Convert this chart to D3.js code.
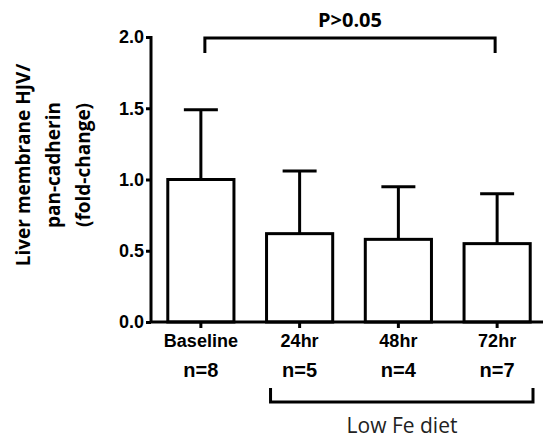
<!DOCTYPE html>
<html>
<head>
<meta charset="utf-8">
<script src="https://cdn.jsdelivr.net/npm/d3@7"></script>
<style>
  body { margin: 0; background: #fff; }
  svg { display: block; }
</style>
</head>
<body>
<div id="chart"></div>
<script>
const groups = ["Baseline", "24hr", "48hr", "72hr"];
const means = [1.0, 0.62, 0.58, 0.55];
const errTops = [1.49, 1.06, 0.95, 0.90];
const nLabels = ["n=8", "n=5", "n=4", "n=7"];
const yTicks = [0.0, 0.5, 1.0, 1.5, 2.0];

const width = 543, height = 442;

const svg = d3.select("#chart").append("svg")
    .attr("width", width)
    .attr("height", height);

const x = d3.scaleBand()
    .domain(groups)
    .range([151, 547])
    .paddingInner(0.33)
    .paddingOuter(0.17);

const y = d3.scaleLinear()
    .domain([0, 2])
    .range([322, 37]);

const lw = 3;
const arial = "Liberation Sans, Arial, sans-serif";

// bars
svg.append("g")
    .selectAll("rect")
    .data(groups)
    .join("rect")
    .attr("x", d => x(d))
    .attr("y", (d, i) => y(means[i]))
    .attr("width", x.bandwidth())
    .attr("height", (d, i) => y(0) - y(means[i]))
    .attr("fill", "#fff")
    .attr("stroke", "#000")
    .attr("stroke-width", lw);

// error bars (upper only)
const eb = svg.append("g").attr("stroke", "#000").attr("stroke-width", lw);
groups.forEach((g, i) => {
    const cx = x(g) + x.bandwidth() / 2;
    eb.append("line")
        .attr("x1", cx).attr("x2", cx)
        .attr("y1", y(means[i])).attr("y2", y(errTops[i]));
    eb.append("line")
        .attr("x1", cx - 17).attr("x2", cx + 17)
        .attr("y1", y(errTops[i])).attr("y2", y(errTops[i]));
});

// y axis
const yAxis = svg.append("g")
    .attr("transform", "translate(151,0)")
    .call(d3.axisLeft(y).tickValues(yTicks).tickFormat(d3.format(".1f")).tickSize(5).tickPadding(2));
yAxis.select(".domain").attr("stroke-width", lw).attr("d", `M0,${y(2) - 1}V${y(0) + 1}`);
yAxis.selectAll(".tick line").attr("stroke-width", lw);
yAxis.selectAll(".tick text")
    .attr("font-family", arial)
    .attr("font-weight", "bold")
    .attr("font-size", 18)
    .attr("fill", "#000");

// x axis
const xAxis = svg.append("g")
    .attr("transform", `translate(0,${y(0)})`)
    .call(d3.axisBottom(x).tickSize(6).tickPadding(6));
xAxis.select(".domain").attr("stroke-width", lw).attr("d", `M150,0H543`);
xAxis.selectAll(".tick line").attr("stroke-width", lw);
xAxis.selectAll(".tick text")
    .attr("font-family", arial)
    .attr("font-weight", "bold")
    .attr("font-size", 18)
    .attr("fill", "#000");

// n labels
svg.append("g")
    .selectAll("text")
    .data(groups)
    .join("text")
    .attr("x", d => x(d) + x.bandwidth() / 2)
    .attr("y", 377)
    .attr("text-anchor", "middle")
    .attr("font-family", arial)
    .attr("font-weight", "bold")
    .attr("font-size", 20)
    .text((d, i) => nLabels[i]);

// Low Fe diet bracket
const bx0 = x("24hr") + 4, bx1 = 533;
svg.append("path")
    .attr("d", `M${bx0},388V402H${bx1}V388`)
    .attr("fill", "none")
    .attr("stroke", "#000")
    .attr("stroke-width", lw);
svg.append("text")
    .attr("x", 402)
    .attr("y", 433)
    .attr("text-anchor", "middle")
    .attr("font-family", "Open Sans, sans-serif")
    .attr("font-size", 21)
    .attr("fill", "#222")
    .text("Low Fe diet");

// significance bracket
const sx0 = x("Baseline") + x.bandwidth() / 2 + 4;
const sx1 = x("72hr") + x.bandwidth() / 2 - 2;
svg.append("path")
    .attr("d", `M${sx0},53V38H${sx1}V53`)
    .attr("fill", "none")
    .attr("stroke", "#000")
    .attr("stroke-width", lw);
svg.append("text")
    .attr("x", (sx0 + sx1) / 2)
    .attr("y", 27)
    .attr("text-anchor", "middle")
    .attr("font-family", "Open Sans, sans-serif")
    .attr("font-weight", "bold")
    .attr("font-size", 20)
    .text("P>0.05");

// y label
const yl = svg.append("text")
    .attr("transform", "translate(0,165) rotate(-90)")
    .attr("text-anchor", "middle")
    .attr("font-family", "Open Sans, sans-serif")
    .attr("font-weight", "bold")
    .attr("font-size", 19);
["Liver membrane HJV/", "pan-cadherin", "(fold-change)"].forEach((t, i) => {
    yl.append("tspan").attr("x", 0).attr("y", 30 + i * 30).text(t);
});
</script>
</body>
</html>
